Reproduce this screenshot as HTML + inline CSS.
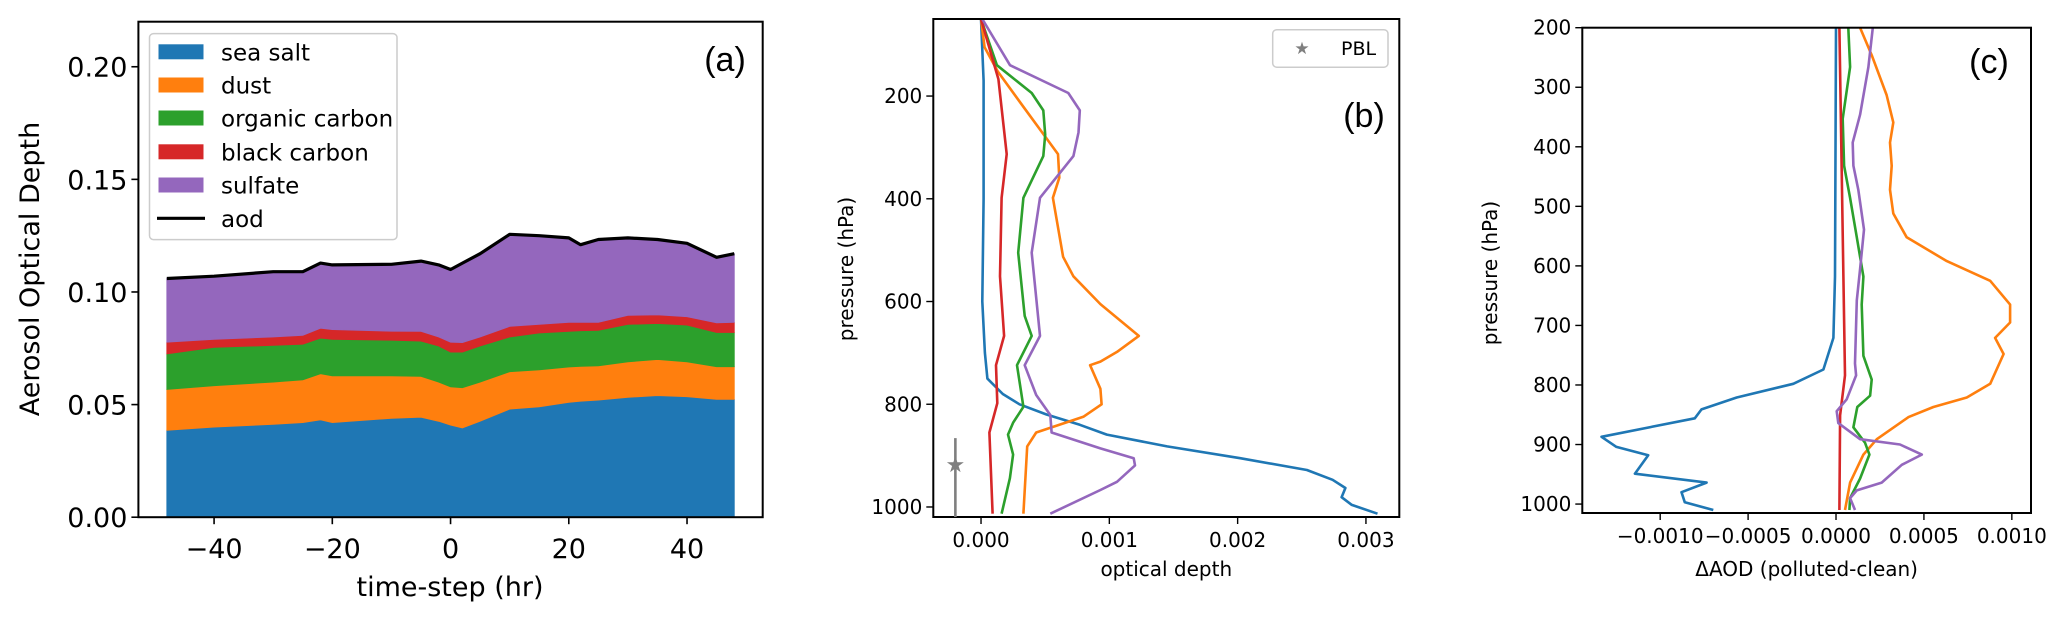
<!DOCTYPE html>
<html><head><meta charset="utf-8">
<style>
html,body{margin:0;padding:0;background:#fff;}
svg{display:block;font-family:"DejaVu Sans","Liberation Sans",sans-serif;}
</style></head>
<body>
<svg id="fig" width="2067" height="620" viewBox="0 0 2067 620" xmlns="http://www.w3.org/2000/svg">
<g id="pa"></g>
<g id="pb"></g>
<g id="pc"></g>
</svg>
<script>
// ---------- Panel (a) data ----------
const timeSteps = [-48,-40,-30,-25,-22,-20,-10,-5,-2,0,2,5,10,15,20,22,25,30,35,40,45,48];
const seaSalt = [.0386,.040,.0412,.042,.0432,.042,.0439,.0444,.0426,.0409,.0396,.0426,.048,.049,.051,.0515,.052,.0532,.054,.0535,.0523,.0523];
const dust = [.0181,.0184,.0188,.019,.0205,.0208,.0189,.0181,.0174,.017,.0179,.0174,.0166,.0164,.0157,.0155,.0152,.0158,.016,.0155,.0145,.0145];
const organicCarbon = [.0158,.017,.0163,.0158,.0158,.0162,.0158,.0157,.016,.0154,.0158,.016,.0154,.0164,.0158,.0158,.0158,.0166,.016,.0163,.0152,.0152];
const blackCarbon = [.0052,.0036,.0037,.0039,.0044,.0043,.004,.0043,.004,.0044,.0042,.004,.0047,.0038,.004,.0037,.0035,.004,.0038,.0037,.0043,.0045];
const sulfate = [.0283,.028,.029,.0283,.0289,.0287,.0297,.0312,.032,.0323,.0353,.037,.0409,.0394,.0375,.0345,.0368,.0344,.0335,.0326,.0291,.0305];
const aodTotal = [.106,.107,.109,.109,.1128,.112,.1123,.1137,.112,.110,.1128,.117,.1256,.125,.124,.121,.1233,.124,.1233,.1216,.1154,.117];
const aTicksX = [-40,-20,0,20,40];
const aTicksY = [0,0.05,0.10,0.15,0.20];
const aTickYLabels = ["0.00","0.05","0.10","0.15","0.20"];
const aSeriesNames = ["sea salt","dust","organic carbon","black carbon","sulfate"];

// ---------- Panel (b) data (optical depth in 1e-3 units, pressure hPa) ----------
const bSeaSaltP = [50,170,400,600,700,750,780,800,820,840,859,882,905,928,947,963,981,996,1013];
const bSeaSaltV = [0,0.02,0.02,0.01,0.03,0.05,0.17,0.3,0.51,0.77,0.98,1.45,2.02,2.54,2.74,2.84,2.81,2.89,3.09];
const bDustP = [50,105,152,221,313,359,398,513,551,605,667,698,717,724,770,800,824,855,882,1013];
const bDustV = [0,0.028,0.13,0.33,0.6,0.61,0.56,0.64,0.72,0.93,1.23,1.06,0.93,0.85,0.93,0.94,0.8,0.43,0.36,0.33];
const bOrgP = [50,140,194,228,275,317,398,505,628,667,724,805,836,859,898,944,1013];
const bOrgV = [0,0.124,0.395,0.485,0.5,0.485,0.33,0.29,0.34,0.395,0.28,0.33,0.25,0.21,0.25,0.225,0.16];
const bBlackP = [50,167,313,398,551,667,724,798,855,1013];
const bBlackV = [0,0.135,0.2,0.16,0.148,0.18,0.117,0.127,0.065,0.09];
const bSulfP = [50,140,194,228,271,317,398,505,667,724,782,821,855,886,905,919,951,967,1013];
const bSulfV = [0.01,0.226,0.68,0.77,0.76,0.72,0.46,0.395,0.46,0.34,0.43,0.54,0.55,0.93,1.19,1.2,1.06,0.93,0.54];
const pblP = [918];
const pblV = [-0.2];
const pblErrLo = [866];
const pblErrHi = [1030];
const bTicksX = [0,1,2,3];
const bTickXLabels = ["0.000","0.001","0.002","0.003"];
const bTicksY = [200,400,600,800,1000];

// ---------- Panel (c) data (ΔAOD in 1e-3 units) ----------
const cSeaSaltP = [200,618,721,774,798,821,841,856,887,904,918,949,964,980,997,1010];
const cSeaSaltV = [0,-0.006,-0.015,-0.072,-0.243,-0.565,-0.765,-0.803,-1.334,-1.249,-1.068,-1.144,-0.736,-0.879,-0.86,-0.698];
const cDustP = [200,246,313,359,393,432,472,512,552,592,625,665,695,721,748,798,821,837,854,891,917,964,1010];
const cDustV = [0.137,0.203,0.288,0.326,0.307,0.317,0.307,0.326,0.402,0.63,0.877,0.99,0.99,0.905,0.953,0.877,0.744,0.554,0.412,0.232,0.156,0.08,0.051];
const cOrgP = [200,266,353,432,486,552,618,665,751,791,818,837,871,897,917,957,990,1010];
const cOrgV = [0.07,0.08,0.038,0.046,0.08,0.118,0.156,0.146,0.156,0.203,0.194,0.121,0.099,0.165,0.19,0.137,0.08,0.076];
const cBlackP = [200,618,784,851,1010];
const cBlackV = [0.019,0.042,0.051,0.023,0.019];
const cSulfP = [200,266,346,393,432,472,539,605,658,764,784,824,844,864,891,900,917,934,964,977,990,1010];
const cSulfV = [0.209,0.184,0.137,0.095,0.099,0.127,0.159,0.137,0.118,0.108,0.114,0.061,0.004,0.013,0.137,0.364,0.488,0.374,0.26,0.118,0.08,0.108];
const cTicksX = [-1,-0.5,0,0.5,1];
const cTickXLabels = ["\u22120.0010","\u22120.0005","0.0000","0.0005","0.0010"];
const cTicksY = [200,300,400,500,600,700,800,900,1000];

const COLORS = ["#1f77b4","#ff7f0e","#2ca02c","#d62728","#9467bd"];
const NS = "http://www.w3.org/2000/svg";
function mk(parent, tag, attrs, text){
  const e = document.createElementNS(NS, tag);
  for (const k in attrs) e.setAttribute(k, attrs[k]);
  if (text !== undefined) e.textContent = text;
  parent.appendChild(e);
  return e;
}
function lin(d0,d1,r0,r1){ return v => r0 + (v-d0)/(d1-d0)*(r1-r0); }

// ================= Panel A =================
(function(){
  const g = document.getElementById('pa');
  const L=138.4,R=762.7,T=21.7,B=517.2;
  const x = lin(-52.8,52.8,L,R), y = lin(0,0.22,B,T);
  const comps=[seaSalt,dust,organicCarbon,blackCarbon,sulfate];
  const names=["area-sea-salt","area-dust","area-organic-carbon","area-black-carbon","area-sulfate"];
  let base = timeSteps.map(()=>0);
  comps.forEach((c,i)=>{
    const top = base.map((b,j)=>b+c[j]);
    let d = "M";
    timeSteps.forEach((t,j)=>{ d += (j?" L":"")+x(t).toFixed(1)+","+y(top[j]).toFixed(1); });
    for(let j=timeSteps.length-1;j>=0;j--) d += " L"+x(timeSteps[j]).toFixed(1)+","+y(base[j]).toFixed(1);
    d+=" Z";
    const p = mk(g,'path',{d:d,fill:COLORS[i],stroke:COLORS[i],'stroke-width':0.8});
    
    
    base = top;
  });
  let d="";
  timeSteps.forEach((t,j)=>{ d += (j?" L":"M")+x(t).toFixed(1)+","+y(aodTotal[j]).toFixed(1); });
  const ln = mk(g,'path',{d:d,fill:'none',stroke:'#000','stroke-width':3.2,'stroke-linejoin':'round'});
  
  
  const fr = mk(g,'rect',{x:L,y:T,width:R-L,height:B-T,fill:'none',stroke:'#000','stroke-width':2});
  
  
  aTicksX.forEach(t=>{
    const tk = mk(g,'line',{x1:x(t),x2:x(t),y1:B,y2:B+7,stroke:'#000','stroke-width':1.6});
    
    
    const lb = mk(g,'text',{x:x(t),y:B+41,'font-size':27,'text-anchor':'middle'}, t<0?"\u2212"+Math.abs(t):String(t));
    
    
  });
  aTicksY.forEach((t,i)=>{
    const tk = mk(g,'line',{x1:L-7,x2:L,y1:y(t),y2:y(t),stroke:'#000','stroke-width':1.6});
    
    
    const lb = mk(g,'text',{x:L-11,y:y(t)+10,'font-size':27,'text-anchor':'end'}, aTickYLabels[i]);
    
    
  });
  // legend
  const lg = mk(g,'g',{});
  
  
  mk(lg,'rect',{x:149.5,y:33.6,width:247.5,height:206,rx:4,fill:'#fff','fill-opacity':0.8,stroke:'#ccc','stroke-width':1.5});
  const ly=[51.8,85,118,151.8,185,218.3];
  aSeriesNames.forEach((n,i)=>{
    const e = mk(lg,'g',{});
    
    
    mk(e,'rect',{x:158.5,y:ly[i]-7.5,width:45,height:15,fill:COLORS[i]});
    mk(e,'text',{x:221,y:ly[i]+8.5,'font-size':23}, n);
  });
  const e = mk(lg,'g',{});
  
  
  mk(e,'line',{x1:157,x2:205,y1:ly[5],y2:ly[5],stroke:'#000','stroke-width':3.2});
  mk(e,'text',{x:221,y:ly[5]+8.5,'font-size':23}, 'aod');
  const pl = mk(g,'text',{x:725,y:71,'font-size':34,'text-anchor':'middle','font-family':'Liberation Sans, sans-serif'}, '(a)');
  
  
  const xl = mk(g,'text',{x:450,y:596,'font-size':27,'text-anchor':'middle'}, 'time-step (hr)');
  
  
  const yl = mk(g,'text',{x:0,y:0,'font-size':27,'text-anchor':'middle',transform:'translate(39,269) rotate(-90)'}, 'Aerosol Optical Depth');
  
  
})();

// ============ profile panel helper ============
function profilePanel(gid, L,R,T,B, xd0,xd1, pTop,pBot, series, ticksX, tickXLabels, ticksY, xTitle, suffix){
  const g = document.getElementById(gid);
  const x = lin(xd0,xd1,L,R), y = lin(pTop,pBot,T,B);
  const names=["line-sea-salt","line-dust","line-organic-carbon","line-black-carbon","line-sulfate"];
  series.forEach((s,i)=>{
    let d="";
    s[0].forEach((p,j)=>{ d += (j?" L":"M")+x(s[1][j]).toFixed(1)+","+y(p).toFixed(1); });
    const ln = mk(g,'path',{d:d,fill:'none',stroke:COLORS[i],'stroke-width':2.6,'stroke-linejoin':'round'});
    
    
  });
  const fr = mk(g,'rect',{x:L,y:T,width:R-L,height:B-T,fill:'none',stroke:'#000','stroke-width':2});
  
  
  ticksX.forEach((t,i)=>{
    const tk = mk(g,'line',{x1:x(t),x2:x(t),y1:B,y2:B+7,stroke:'#000','stroke-width':1.4});
    
    
    const lb = mk(g,'text',{x:x(t),y:B+30,'font-size':20,'text-anchor':'middle'}, tickXLabels[i]);
    
    
  });
  ticksY.forEach(t=>{
    const tk = mk(g,'line',{x1:L-7,x2:L,y1:y(t),y2:y(t),stroke:'#000','stroke-width':1.4});
    
    
    const lb = mk(g,'text',{x:L-11,y:y(t)+7,'font-size':20,'text-anchor':'end'}, String(t));
    
    
  });
  const xl = mk(g,'text',{x:(L+R)/2,y:576,'font-size':20,'text-anchor':'middle'}, xTitle);
  
  
  return {g:g,x:x,y:y};
}

// ================= Panel B =================
(function(){
  const r = profilePanel('pb', 933.3,1399.3,19,517, -0.372,3.26, 50,1019.5,
    [[bSeaSaltP,bSeaSaltV],[bDustP,bDustV],[bOrgP,bOrgV],[bBlackP,bBlackV],[bSulfP,bSulfV]],
    bTicksX, bTickXLabels, bTicksY, 'optical depth', 'b');
  const g=r.g, x=r.x, y=r.y;
  pblP.forEach((p,i)=>{
    const el = mk(g,'line',{x1:x(pblV[i]),x2:x(pblV[i]),y1:y(pblErrLo[i]),y2:Math.min(y(pblErrHi[i]),517),stroke:'#7f7f7f','stroke-width':2.6});
    
    
    const st = mk(g,'text',{x:x(pblV[i]),y:y(p)+7,'font-size':22,'text-anchor':'middle',fill:'#7f7f7f'}, '\u2605');
    
    
  });
  const lg = mk(g,'g',{});
  
  
  mk(lg,'rect',{x:1272.7,y:29.7,width:115.3,height:37.5,rx:4,fill:'#fff',stroke:'#ccc','stroke-width':1.5});
  mk(lg,'text',{x:1302,y:54,'font-size':17,'text-anchor':'middle',fill:'#7f7f7f'}, '\u2605');
  mk(lg,'text',{x:1341,y:55,'font-size':19}, 'PBL');
  const pl = mk(g,'text',{x:1364,y:127,'font-size':34,'text-anchor':'middle','font-family':'Liberation Sans, sans-serif'}, '(b)');
  
  
  const yl = mk(g,'text',{x:0,y:0,'font-size':20,'text-anchor':'middle',transform:'translate(853,269) rotate(-90)'}, 'pressure (hPa)');
  
  
})();

// ================= Panel C =================
(function(){
  const r = profilePanel('pc', 1582.3,2031,27.7,513, -1.443,1.109, 200,1015,
    [[cSeaSaltP,cSeaSaltV],[cDustP,cDustV],[cOrgP,cOrgV],[cBlackP,cBlackV],[cSulfP,cSulfV]],
    cTicksX, cTickXLabels, cTicksY, '\u0394AOD (polluted-clean)', 'c');
  const g=r.g;
  const pl = mk(g,'text',{x:1989,y:73,'font-size':34,'text-anchor':'middle','font-family':'Liberation Sans, sans-serif'}, '(c)');
  
  
  const yl = mk(g,'text',{x:0,y:0,'font-size':20,'text-anchor':'middle',transform:'translate(1497,273) rotate(-90)'}, 'pressure (hPa)');
  
  
})();
</script>
</body></html>
